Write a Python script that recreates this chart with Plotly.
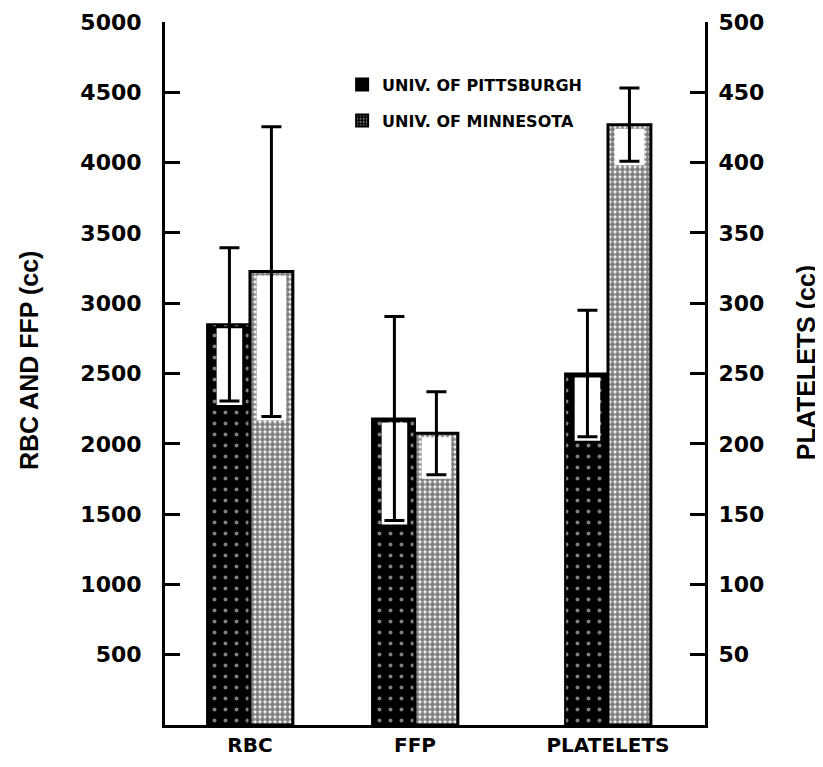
import plotly.graph_objects as go

# ---- data ----
categories = ["RBC", "FFP", "PLATELETS"]
cat_pos = [0, 1, 2.17]               # horizontal placement of the three groups

# RBC and FFP (cc) - left axis
pitt_rbc_ffp = [2850, 2180]
pitt_rbc_ffp_err = [545, 725]
minn_rbc_ffp = [3225, 2075]
minn_rbc_ffp_err = [1030, 295]

# Platelets (cc) - right axis
pitt_plt = [250]
pitt_plt_err = [45]
minn_plt = [427]
minn_plt_err = [26]

left_ticks = [500, 1000, 1500, 2000, 2500, 3000, 3500, 4000, 4500, 5000]
right_ticks = [50, 100, 150, 200, 250, 300, 350, 400, 450, 500]
left_max = 5000
right_max = 500

# ---- style ----
W = 0.26
PLOT_H = 703
TICK_FONT = dict(family="DejaVu Sans", size=22, color="black", weight="bold")
MINN_PATTERN = dict(shape=".", fgcolor="black", bgcolor="white", size=5, solidity=0.72)
PITT_PATTERN = dict(shape=".", fgcolor="white", bgcolor="black", size=11, solidity=0.1)

fig = go.Figure()


def add_series(xs, vals, errs, yaxis, axis_max, kind):
    inset = 4 / PLOT_H * axis_max      # top frame thickness in data units
    pad = 4 / PLOT_H * axis_max        # window extends a little below lower cap
    if kind == "pitt":
        off = -W
        marker = dict(color="black", line=dict(color="black", width=2),
                      pattern=PITT_PATTERN)
        w_off, w_w = -W + 0.058, 0.155
    else:
        off = 0
        marker = dict(color="white", line=dict(color="black", width=3),
                      pattern=MINN_PATTERN)
        w_off, w_w = 0.04, 0.18
    fig.add_trace(go.Bar(x=xs, y=vals, offset=off, width=W, marker=marker,
                         yaxis=yaxis, showlegend=False, hoverinfo="skip"))
    fig.add_trace(go.Bar(x=xs, y=[e + pad - inset for e in errs],
                         base=[v - e - pad for v, e in zip(vals, errs)],
                         offset=w_off, width=w_w,
                         marker=dict(color="white", line=dict(width=0)),
                         yaxis=yaxis, showlegend=False, hoverinfo="skip"))
    fig.add_trace(go.Scatter(x=[x + w_off + w_w / 2 for x in xs], y=vals,
                             mode="markers",
                             marker=dict(size=1, color="rgba(0,0,0,0)"),
                             error_y=dict(type="data", array=errs, color="black",
                                          thickness=3, width=10),
                             yaxis=yaxis, showlegend=False, hoverinfo="skip"))


add_series(cat_pos[:2], pitt_rbc_ffp, pitt_rbc_ffp_err, "y", left_max, "pitt")
add_series(cat_pos[:2], minn_rbc_ffp, minn_rbc_ffp_err, "y", left_max, "minn")
add_series(cat_pos[2:], pitt_plt, pitt_plt_err, "y2", right_max, "pitt")
add_series(cat_pos[2:], minn_plt, minn_plt_err, "y2", right_max, "minn")

# legend entries
fig.add_trace(go.Bar(x=[None], y=[None], name="UNIV. OF PITTSBURGH",
                     marker=dict(color="black", line=dict(color="black", width=2)),
                     legendgroup="a"))
fig.add_trace(go.Bar(x=[None], y=[None], name="UNIV. OF MINNESOTA",
                     marker=dict(color="black", line=dict(color="black", width=2),
                                 pattern=dict(shape=".", fgcolor="white", bgcolor="black",
                                              size=4, solidity=0.3)),
                     legendgroup="b"))

axis_common = dict(showline=True, linewidth=3, linecolor="black", ticks="inside",
                   ticklen=15, tickwidth=3, tickcolor="black", showgrid=False,
                   zeroline=False, tickfont=TICK_FONT, automargin=False)

fig.update_layout(
    width=815, height=759,
    margin=dict(l=157, r=118, t=14, b=42),
    paper_bgcolor="white", plot_bgcolor="white",
    barmode="overlay",
    xaxis=dict(range=[-0.515, 2.758], tickvals=cat_pos, ticktext=categories,
               showline=True, linewidth=3, linecolor="black", ticks="",
               showgrid=False, zeroline=False, fixedrange=True, automargin=False,
               tickfont=dict(family="DejaVu Sans", size=20, color="black", weight="bold")),
    yaxis=dict(range=[0, left_max], tickvals=left_ticks, ticklabelstandoff=16,
               **axis_common),
    yaxis2=dict(range=[0, right_max], tickvals=right_ticks, overlaying="y", side="right",
                ticklabelstandoff=6, **axis_common),
    legend=dict(x=0.328, y=0.935, xanchor="left", yanchor="top",
                bgcolor="rgba(0,0,0,0)", tracegroupgap=12,
                font=dict(family="DejaVu Sans", size=16, color="black", weight="bold")),
    annotations=[
        dict(text="RBC AND FFP (cc)", textangle=-90, xref="paper", yref="paper",
             x=-0.252, y=0.519, xanchor="center", yanchor="middle", showarrow=False,
             font=dict(family="Liberation Sans", size=25, color="black", weight="bold")),
        dict(text="PLATELETS (cc)", textangle=-90, xref="paper", yref="paper",
             x=1.187, y=0.516, xanchor="center", yanchor="middle", showarrow=False,
             font=dict(family="Liberation Sans", size=25, color="black", weight="bold")),
    ],
)

fig.write_html("out.html")
